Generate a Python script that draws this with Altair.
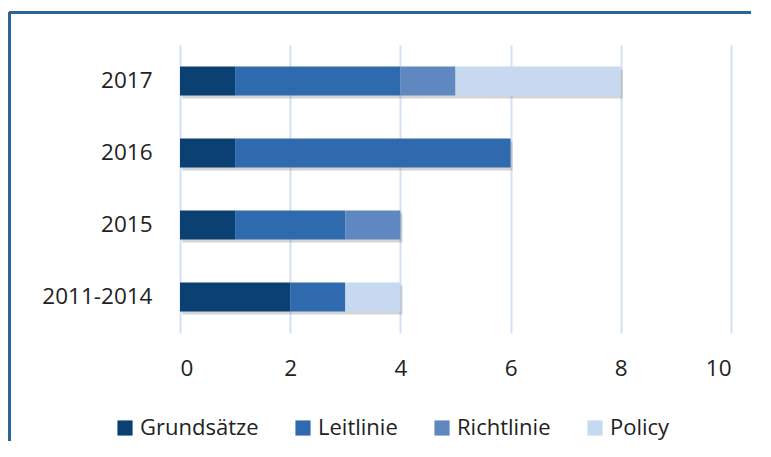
import altair as alt
import pandas as pd

periods = ["2017", "2016", "2015", "2011-2014"]
types = ["Grundsätze", "Leitlinie", "Richtlinie", "Policy"]
colors = ["#0b4172", "#2f6aae", "#6088c0", "#c6d9f0"]
# values per type, aligned with periods
grundsaetze = [1, 1, 1, 2]
leitlinie = [3, 5, 2, 1]
richtlinie = [1, 0, 1, 0]
policy = [3, 0, 0, 1]
x_ticks = [0, 2, 4, 6, 8, 10]

series = [grundsaetze, leitlinie, richtlinie, policy]
rows = []
for ti, (t, vals) in enumerate(zip(types, series)):
    for p, v in zip(periods, vals):
        rows.append({"period": p, "type": t, "value": v, "order": ti})
df = pd.DataFrame(rows)

FONT = "Open Sans"

y_enc = alt.Y(
    "period:N",
    sort=periods,
    scale=alt.Scale(paddingInner=0.6, paddingOuter=0.3),
    axis=alt.Axis(
        title=None, ticks=False, domain=False, grid=False,
        labelFontSize=22.5, labelFont=FONT, labelColor="#222222",
        labelPadding=28,
    ),
)

shadow = alt.Chart(df).transform_aggregate(
    total="sum(value)", groupby=["period"]
).mark_bar(color="#888888", opacity=0.35, xOffset=2, yOffset=3).encode(
    x=alt.X("total:Q", scale=alt.Scale(domain=[0, 10])),
    y=y_enc,
)

bars = alt.Chart(df).mark_bar().encode(
    x=alt.X(
        "value:Q",
        stack="zero",
        scale=alt.Scale(domain=[0, 10]),
        axis=alt.Axis(
            title=None, values=x_ticks, ticks=False, domain=False,
            grid=True, gridColor="#d4e1f2", gridWidth=2,
            labelFontSize=22.5, labelFont=FONT, labelColor="#222222",
            labelPadding=24,
        ),
    ),
    y=y_enc,
    color=alt.Color(
        "type:N",
        sort=types,
        scale=alt.Scale(domain=types, range=colors),
        legend=alt.Legend(
            title=None, orient="none", direction="horizontal",
            legendX=-66, legendY=372,
            symbolType="square", symbolSize=230, symbolStrokeWidth=0,
            labelFontSize=22, labelFont=FONT, labelColor="#222222",
            labelOffset=4, columnPadding=33,
        ),
    ),
    order=alt.Order("order:Q"),
)

frame_top = alt.Chart(df).mark_rule(color="#2d6499", strokeWidth=1.5).encode(
    x=alt.value(-170.5), x2=alt.value(700), y=alt.value(-32.5)
)
frame_left = alt.Chart(df).mark_rule(color="#2d6499", strokeWidth=1.5).encode(
    x=alt.value(-170.5), y=alt.value(-32.5), y2=alt.value(420)
)

chart = alt.layer(shadow, bars, frame_top, frame_left).properties(
    width=551, height=288,
    autosize=alt.AutoSizeParams(type="none"),
    padding={"left": 172, "top": 37, "right": 20, "bottom": 108},
).configure_view(stroke=None)

chart.save("out.html", embed_options={"renderer": "svg", "actions": False})
